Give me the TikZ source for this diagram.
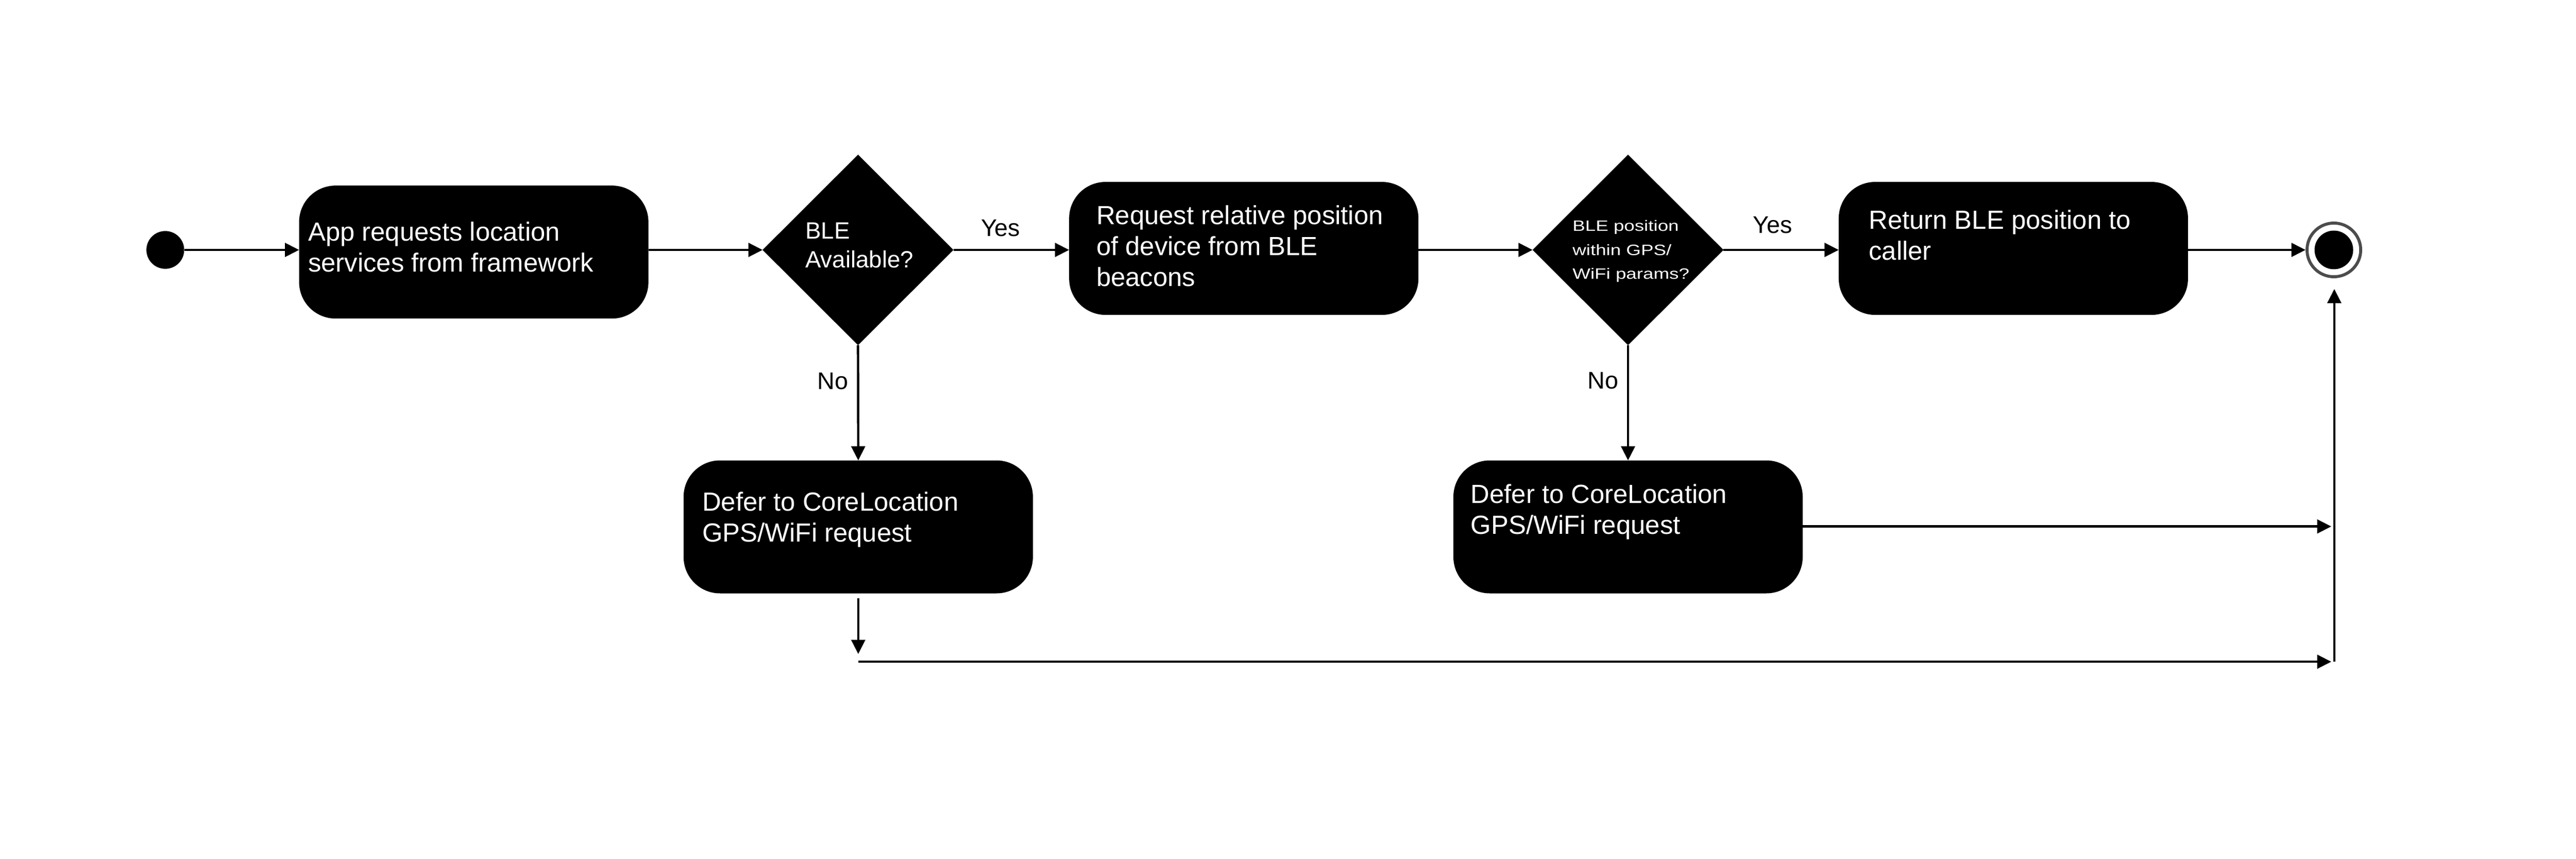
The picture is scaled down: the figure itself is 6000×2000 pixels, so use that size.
\documentclass[tikz,border=0pt]{standalone}
\usepackage{fontspec}
\setmainfont{Liberation Sans}
\newfontfamily\widesans[FakeStretch=1.26]{Liberation Sans}
\usetikzlibrary{shapes.geometric,arrows.meta}
\begin{document}
\begin{tikzpicture}[x=0.25pt,y=-0.25pt,
  line/.style={line width=1.33pt, draw=black},
  arr/.style={line, -{Triangle[length=8.25pt,width=8pt]}},
  actbox/.style={rectangle, rounded corners=21pt, fill=black, draw=black, minimum width=203pt, minimum height=77pt, inner sep=0pt},
  decision/.style={diamond, fill=black, draw=black, minimum width=110.75pt, minimum height=110.5pt, inner sep=0pt},
  boxtext/.style={text=white, align=left, inner sep=0pt, font=\fontsize{15.25}{18}\selectfont, anchor=base west},
  dtext/.style={text=white, align=left, inner sep=0pt, font=\fontsize{13.7}{16.8}\selectfont, anchor=base west},
  dtextsmall/.style={text=white, align=left, inner sep=0pt, font=\widesans\fontsize{8.75}{14}\selectfont, anchor=base west},
  lbl/.style={text=black, inner sep=0pt, font=\fontsize{14}{16.8}\selectfont, anchor=base west},
  startdot/.style={circle, fill=black, minimum size=22pt, inner sep=0pt},
  endring/.style={circle, draw=black!70, line width=1.75pt, minimum size=31.25pt, inner sep=0pt}
]
\useasboundingbox (0,0) rectangle (6000,2000);

% nodes (text nodes anchored at the baseline of their last line)
\node[startdot] (start) at (385,582) {};
\node[actbox] (b1) at (1103.5,587) {};
\node[boxtext] (t1) at (717,633) {App requests location\\services from framework};
\node[decision] (d1) at (1998.5,582) {};
\node[dtext] (t2) at (1875,623) {BLE\\Available?};
\node[actbox] (b2) at (2897,578.5) {};
\node[boxtext] (t3) at (2553,667) {Request relative position\\of device from BLE\\beacons};
\node[decision] (d2) at (3792,582) {};
\node[dtextsmall] (t4) at (3662,650) {BLE position\\within GPS/\\WiFi params?};
\node[actbox] (b3) at (4689.5,578.5) {};
\node[boxtext] (t5) at (4352,605) {Return BLE position to\\caller};
\node[endring] (endc) at (5436,582) {};
\fill[black] (endc.center) circle (11.25pt);
\node[actbox] (b4) at (1999,1227) {};
\node[boxtext] (t6) at (1635,1262) {Defer to CoreLocation\\GPS/WiFi request};
\node[actbox] (b5) at (3792,1227) {};
\node[boxtext] (t7) at (3425,1244) {Defer to CoreLocation\\GPS/WiFi request};

% labels
\node[lbl] (y1) at (2284,550) {Yes};
\node[lbl] (y2) at (4082,543) {Yes};
\node[lbl] (n1) at (1903,906) {No};
\node[lbl] (n2) at (3697,905) {No};

% free ends
\coordinate (p1) at (1999,1393);
\coordinate (p2) at (1999,1523);
\coordinate (p3) at (1999,1541);
\coordinate (p4) at (5430,1541);
\coordinate (p5) at (5437,1541);
\coordinate (p6) at (5437,673);
\coordinate (p7) at (5430,1226);

% connectors
\draw[arr] (start) -- (start -| b1.west);
\draw[arr] (b1.east |- d1) -- (d1.west);
\draw[arr] (d1.east) -- (d1.east -| b2.west);
\draw[arr] (b2.east |- d2) -- (d2.west);
\draw[arr] (d2.east) -- (d2.east -| b3.west);
\draw[arr] (b3.east |- endc) -- (endc.west);
\draw[arr] (d1.south) -- (b4.north);
\draw[arr] (d2.south) -- (b5.north);
\draw[arr] (p1) -- (p2);
\draw[arr] (p3) -- (p4);
\draw[arr] (p5) -- (p6);
\draw[arr] (b5.east |- p7) -- (p7);
\end{tikzpicture}
\end{document}
